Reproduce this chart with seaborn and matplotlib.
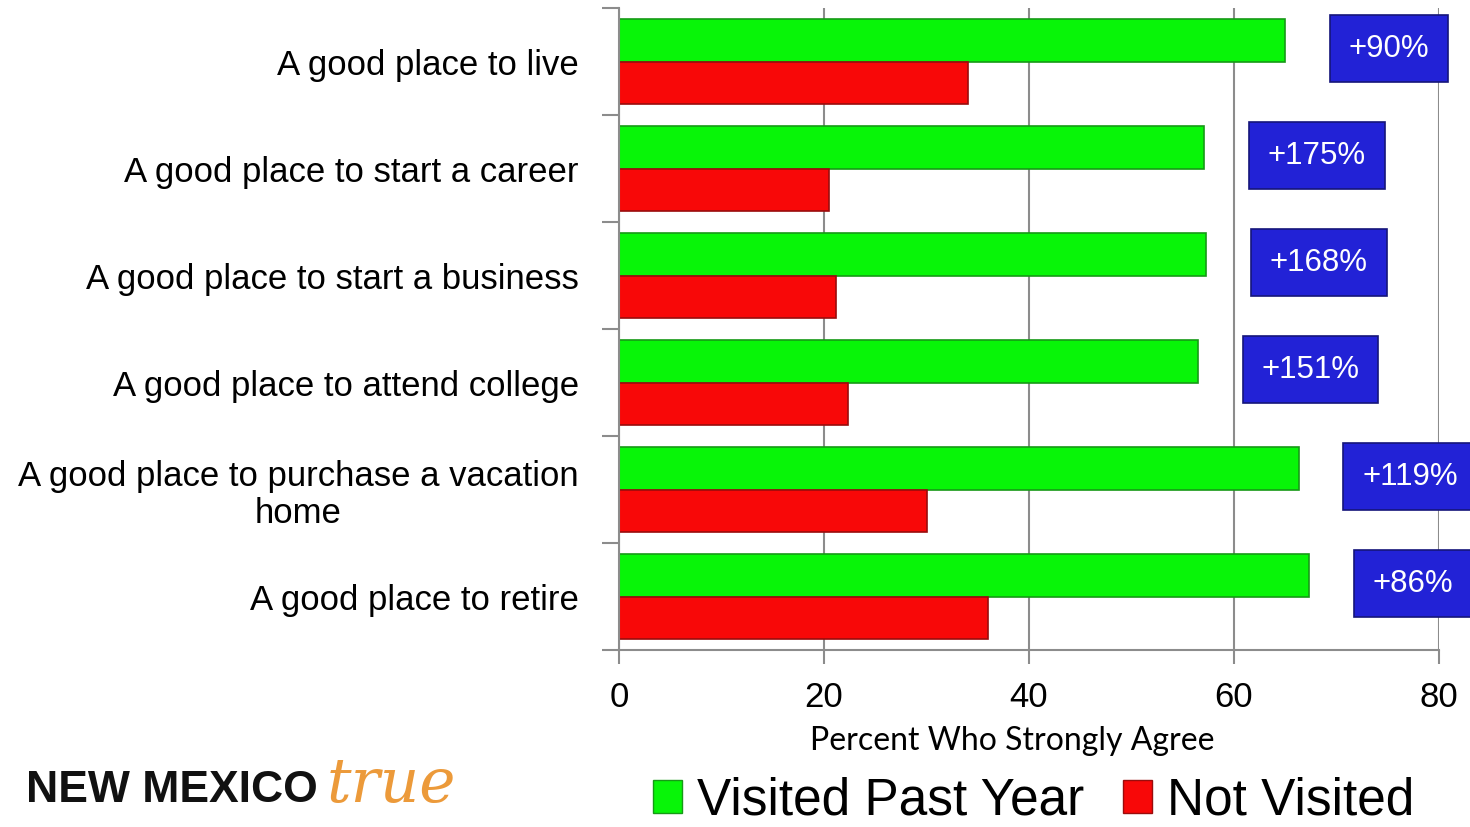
import matplotlib
matplotlib.use("Agg")
import numpy as np
import pandas as pd
import seaborn as sns
from matplotlib import pyplot as plt

statements = [
    "A good place to live",
    "A good place to start a career",
    "A good place to start a business",
    "A good place to attend college",
    "A good place to purchase a vacation\nhome",
    "A good place to retire",
]
visited = [65.0, 57.1, 57.3, 56.5, 66.3, 67.3]
not_visited = [34.0, 20.5, 21.2, 22.3, 30.0, 36.0]
lift_labels = ["+90%", "+175%", "+168%", "+151%", "+119%", "+86%"]
groups = ["Visited Past Year", "Not Visited"]

df = pd.DataFrame({
    "statement": statements * 2,
    "percent": visited + not_visited,
    "group": [groups[0]] * len(statements) + [groups[1]] * len(statements),
})

sns.set_style("white")
plt.rcParams["font.family"] = ["Liberation Sans", "DejaVu Sans"]
for key in ["text.color", "axes.labelcolor", "xtick.labelcolor", "ytick.labelcolor"]:
    plt.rcParams[key] = "black"

fig = plt.figure(figsize=(14.7, 8.27), dpi=100)
ax = fig.add_axes([0.4211, 0.2140, 0.5578, 0.7763])

colors = {"Visited Past Year": "#08f508", "Not Visited": "#f80808"}
edges = {"Visited Past Year": "#169a16", "Not Visited": "#9a0c0c"}
sns.barplot(data=df, x="percent", y="statement", hue="group", palette=colors,
            width=0.8, saturation=1, orient="h", ax=ax, legend=True)

for container, g in zip(ax.containers, groups):
    for bar in container:
        bar.set_edgecolor(edges[g])
        bar.set_linewidth(1.2)

ax.set_xlim(0, 80)
ax.set_ylim(5.5, -0.5)
ax.set_xticks([0, 20, 40, 60, 80])
ax.grid(axis="x", color="#8c8c8c", linewidth=1.5)
ax.set_axisbelow(True)
for side in ["top", "right"]:
    ax.spines[side].set_visible(False)
for side in ["left", "bottom"]:
    ax.spines[side].set_color("#8c8c8c")
    ax.spines[side].set_linewidth(1.5)

ax.set_yticks(np.arange(-0.5, 6, 1), minor=True)
ax.tick_params(axis="y", which="minor", length=12, width=1.5, color="#8c8c8c", left=True)
ax.tick_params(axis="y", which="major", length=0, pad=29)
ax.tick_params(axis="x", length=10, width=1.5, color="#8c8c8c", bottom=True, pad=12)
ax.set_ylabel("")
for lbl in ax.get_yticklabels():
    lbl.set_fontsize(25)
    lbl.set_multialignment("center")
    lbl.set_linespacing(1.15)
for lbl in ax.get_xticklabels():
    lbl.set_fontsize(25)

ax.set_xlabel("Percent Who Strongly Agree", fontsize=23, family=["Lato", "DejaVu Sans"])
ax.xaxis.set_label_coords(0.48, -0.118)

# blue lift boxes right of each green bar
for i, (v, lab) in enumerate(zip(visited, lift_labels)):
    ax.text(v + 6.2, i - 0.12, lab, ha="left", va="center", fontsize=22.5, color="white",
            bbox=dict(boxstyle="square,pad=0.6", facecolor="#2222d6", edgecolor="#15157a",
                      linewidth=1.2), clip_on=False, zorder=5)

handles, labels = ax.get_legend_handles_labels()
ax.get_legend().remove()
for h, g in zip(handles, groups):
    h.set_edgecolor(edges[g])
fig.legend(handles, labels, loc="center", bbox_to_anchor=(0.703, 0.031), ncol=2,
           frameon=False, fontsize=37, handlelength=0.58, handleheight=0.62,
           handletextpad=0.28, columnspacing=0.75, borderaxespad=0)

# logo as text
fig.text(0.018, 0.030, "NEW MEXICO", fontweight="bold", fontsize=32,
         color="#111111", va="baseline")
fig.text(0.222, 0.030, "true", family=["DejaVu Serif"], fontstyle="italic", fontsize=44,
         color="#ec9a3a", va="baseline")

fig.savefig("out.png", dpi=100)
